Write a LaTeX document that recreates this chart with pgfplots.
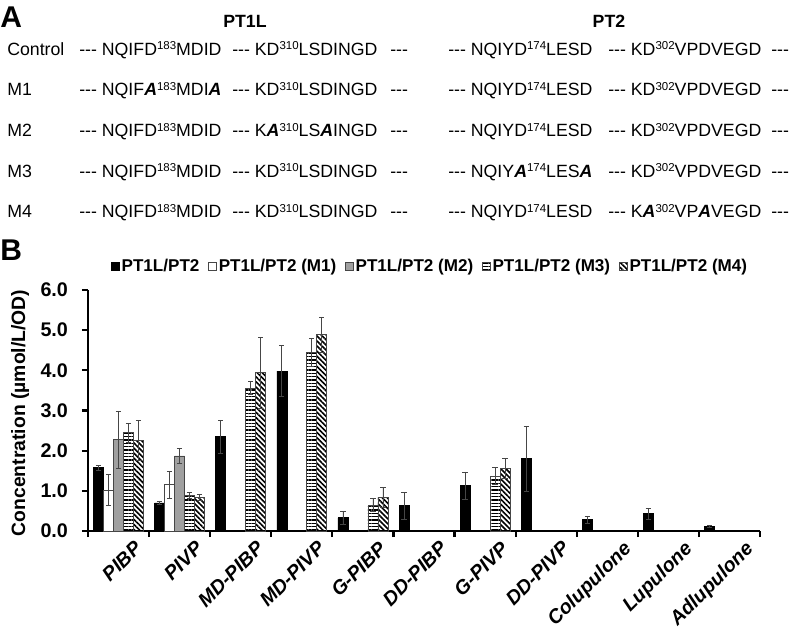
\documentclass[border=0pt]{standalone}
\usepackage{fontspec}
\setmainfont{Liberation Sans}
\usepackage{pgfplots}
\pgfplotsset{compat=1.18}
\usetikzlibrary{patterns,patterns.meta}
\definecolor{barGray}{RGB}{160,160,160}
\definecolor{edgeGray}{RGB}{70,70,70}
\newcommand{\mA}{\textbf{\textit{A}}}
\newcommand{\dd}{-{}-{}-}
\newcommand{\su}[1]{\raisebox{3.9pt}{\fontsize{8.6}{9}\selectfont #1}}
\newcommand{\seqfont}{\fontsize{13.3}{16}\selectfont}
\pgfplotsset{
  errs/.style={error bars/.cd, y dir=both, y explicit,
    error bar style={line width=0.6pt, edgeGray},
    error mark options={rotate=90, mark size=2pt, line width=0.6pt, edgeGray}},
}
\begin{document}
\begin{tikzpicture}
\useasboundingbox (0,0) rectangle (594.75pt,-480pt);
\begin{scope}[x=0.75pt,y=-0.75pt]
  % panel letters
  \node[anchor=base west, inner sep=0pt, font=\bfseries\fontsize{22.5}{26}\selectfont] at (0,27) {A};
  \node[anchor=base west, inner sep=0pt, font=\bfseries\fontsize{22.5}{26}\selectfont] at (0,260) {B};
  % titles
  \node[anchor=base, inner sep=0pt, font=\bfseries\seqfont] at (245,27) {PT1L};
  \node[anchor=base, inner sep=0pt, font=\bfseries\seqfont] at (609,27) {PT2};
  % rows
  \begin{scope}[every node/.style={anchor=base west, inner sep=0pt, font=\seqfont}]
  % Control
  \node at (7,55) {Control};
  \node at (79,55) {\dd{} NQIFD\su{183}MDID};
  \node at (232,55) {\dd{} KD\su{310}LSDINGD};
  \node at (390,55) {\dd};
  \node at (448,55) {\dd{} NQIYD\su{174}LESD};
  \node at (608,55) {\dd{} KD\su{302}VPDVEGD};
  \node at (771,55) {\dd};
  % M1
  \node at (7,95.5) {M1};
  \node at (79,95.5) {\dd{} NQIF\mA\su{183}MDI\mA};
  \node at (232,95.5) {\dd{} KD\su{310}LSDINGD};
  \node at (390,95.5) {\dd};
  \node at (448,95.5) {\dd{} NQIYD\su{174}LESD};
  \node at (608,95.5) {\dd{} KD\su{302}VPDVEGD};
  \node at (771,95.5) {\dd};
  % M2
  \node at (7,136.5) {M2};
  \node at (79,136.5) {\dd{} NQIFD\su{183}MDID};
  \node at (232,136.5) {\dd{} K\mA\su{310}LS\mA INGD};
  \node at (390,136.5) {\dd};
  \node at (448,136.5) {\dd{} NQIYD\su{174}LESD};
  \node at (608,136.5) {\dd{} KD\su{302}VPDVEGD};
  \node at (771,136.5) {\dd};
  % M3
  \node at (7,177) {M3};
  \node at (79,177) {\dd{} NQIFD\su{183}MDID};
  \node at (232,177) {\dd{} KD\su{310}LSDINGD};
  \node at (390,177) {\dd};
  \node at (448,177) {\dd{} NQIY\mA\su{174}LES\mA};
  \node at (608,177) {\dd{} KD\su{302}VPDVEGD};
  \node at (771,177) {\dd};
  % M4
  \node at (7,217.5) {M4};
  \node at (79,217.5) {\dd{} NQIFD\su{183}MDID};
  \node at (232,217.5) {\dd{} KD\su{310}LSDINGD};
  \node at (390,217.5) {\dd};
  \node at (448,217.5) {\dd{} NQIYD\su{174}LESD};
  \node at (608,217.5) {\dd{} K\mA\su{302}VP\mA VEGD};
  \node at (771,217.5) {\dd};
  \end{scope}
\end{scope}
\begin{axis}[
  at={(66pt,-398.25pt)}, anchor=south west,
  width=504pt, height=180.75pt, scale only axis,
  xmin=-0.5, xmax=10.5, ymin=0, ymax=6,
  axis lines=left, axis line style={-, line width=1.6pt},
  ybar=0pt, bar width=7.5pt,
  ytick={0,1,2,3,4,5,6},
  yticklabel style={font=\bfseries\fontsize{14.8}{17}\selectfont, xshift=-7pt, /pgf/number format/.cd, fixed, fixed zerofill, precision=1, assume math mode=true},
  xtick={0,...,10},
  xticklabels={PIBP,PIVP,MD-PIBP,MD-PIVP,G-PIBP,DD-PIBP,G-PIVP,DD-PIVP,Colupulone,Lupulone,Adlupulone},
  xticklabel style={font=\bfseries\itshape\fontsize{14.8}{17}\selectfont, xshift=11pt, yshift=-2pt, rotate=45, anchor=north east, inner sep=0pt},
  major x tick style={draw=none},
  minor xtick={-0.5,0.5,...,10.5},
  tick align=outside,
  major tick length=4.5pt, minor tick length=4.5pt,
  tick style={line width=1.6pt, black},
  ylabel={Concentration (µmol/L/OD)},
  ylabel style={font=\bfseries\fontsize{14.5}{17}\selectfont, at={(axis description cs:-0.101,0.49)}, anchor=center},
  legend columns=5,
  legend style={at={(0.509,1.0996)}, anchor=center, draw=none, fill=none,
    font=\bfseries\fontsize{12.8}{14}\selectfont, nodes={inner xsep=1.5pt},
    /tikz/every even column/.append style={column sep=5pt}},
  legend image code/.code={\draw[#1, line width=0.5pt] (0pt,-3pt) rectangle (6pt,3pt);},
  clip=false,
]
\addplot[fill=black, draw=black, errs] coordinates {
 (0,1.58) +- (0,0.06)
 (1,0.70) +- (0,0.04)
 (2,2.35) +- (0,0.41)
 (3,3.98) +- (0,0.64)
 (4,0.33) +- (0,0.16)
 (5,0.63) +- (0,0.33)
 (6,1.13) +- (0,0.34)
 (7,1.80) +- (0,0.81)
 (8,0.28) +- (0,0.08)
 (9,0.43) +- (0,0.13)
 (10,0.11) +- (0,0.02)
};
\addplot[fill=white, draw=edgeGray, line width=0.5pt, errs] coordinates {
 (0,1.02) +- (0,0.38)
 (1,1.15) +- (0,0.34)
};
\addplot[fill=barGray, draw=edgeGray, line width=0.5pt, errs] coordinates {
 (0,2.28) +- (0,0.71)
 (1,1.87) +- (0,0.19)
};
\addplot[pattern={Lines[angle=0, distance=2.5pt, line width=1.1pt]}, pattern color=black, draw=edgeGray, line width=0.5pt, errs] coordinates {
 (0,2.45) +- (0,0.24)
 (1,0.89) +- (0,0.07)
 (2,3.56) +- (0,0.16)
 (3,4.45) +- (0,0.34)
 (4,0.65) +- (0,0.16)
 (6,1.37) +- (0,0.22)
};
\addplot[pattern={Lines[angle=-45, distance=2.7pt, line width=1.2pt]}, pattern color=black, draw=edgeGray, line width=0.5pt, errs] coordinates {
 (0,2.26) +- (0,0.49)
 (1,0.84) +- (0,0.07)
 (2,3.94) +- (0,0.89)
 (3,4.89) +- (0,0.44)
 (4,0.84) +- (0,0.24)
 (6,1.56) +- (0,0.24)
};
\legend{PT1L/PT2,PT1L/PT2 (M1),PT1L/PT2 (M2),PT1L/PT2 (M3),PT1L/PT2 (M4)}
\end{axis}
\end{tikzpicture}
\end{document}
